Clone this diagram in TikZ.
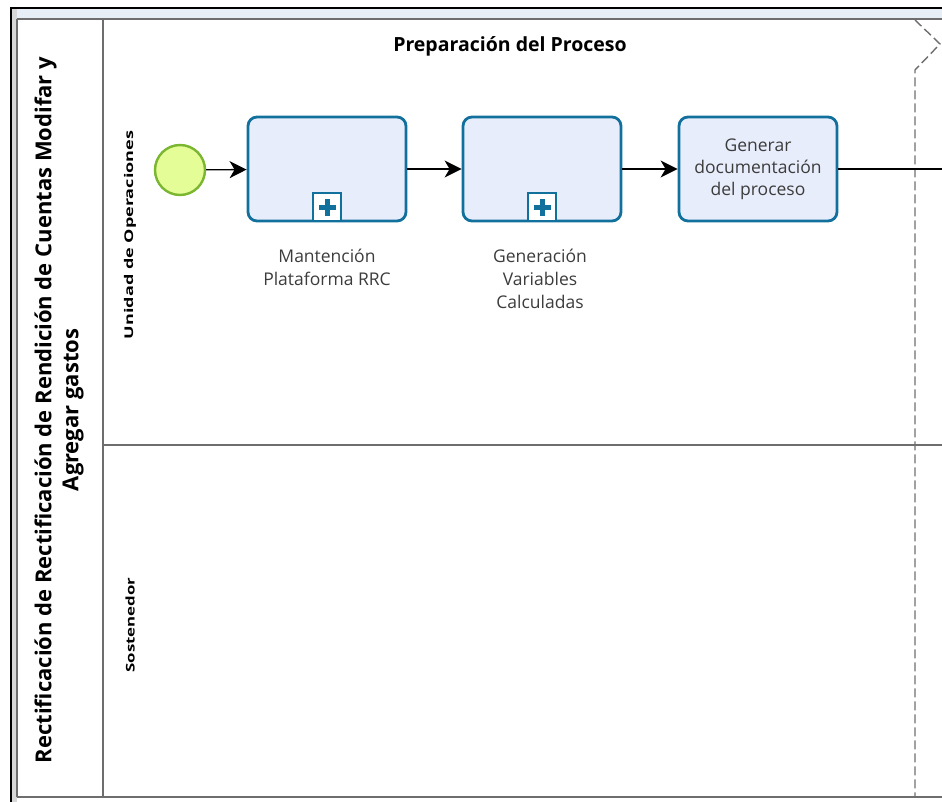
\documentclass[tikz,border=0pt]{standalone}
\usepackage{fontspec}
\setmainfont{Open Sans}
\usetikzlibrary{arrows.meta,calc}

\definecolor{taskline}{RGB}{18,112,156}
\definecolor{taskfill}{RGB}{232,237,252}
\definecolor{startfill}{RGB}{229,253,150}
\definecolor{startline}{RGB}{122,182,48}
\definecolor{poolline}{RGB}{110,110,110}
\definecolor{labeltext}{RGB}{60,60,60}
\definecolor{stripblue}{RGB}{232,238,245}
\definecolor{stripgrey}{RGB}{215,215,215}

\tikzset{
  poolrule/.style={draw=poolline, line width=1.5pt},
  boundary/.style={draw=poolline, line width=1.4pt, dash pattern=on 9pt off 4pt},
  task/.style={draw=taskline, fill=taskfill, line width=2.8pt, rounded corners=9pt,
    minimum width=158pt, minimum height=104pt, inner sep=0pt,
    align=center, text=labeltext, font=\fontsize{17.5}{22}\selectfont},
  startevent/.style={circle, draw=startline, fill=startfill, line width=2.4pt,
    minimum size=50pt, inner sep=0pt},
  flow/.style={draw=black, line width=1.3pt,
    -{Stealth[length=17pt, width=17pt, inset=5pt]}},
  plainflow/.style={draw=black, line width=1.3pt},
  marker/.style={draw=taskline, fill=white, line width=2pt, minimum size=28pt, inner sep=0pt},
  caption/.style={align=center, text=labeltext, font=\fontsize{17.5}{23}\selectfont},
  lanetitle/.style={rotate=90, font=\bfseries\fontsize{12}{14}\selectfont},
}

\newcommand{\plusmark}[1]{%
  \fill[taskline] ($(#1)+(-8.5,-2.5)$) rectangle ($(#1)+(8.5,2.5)$);
  \fill[taskline] ($(#1)+(-2.5,-8.5)$) rectangle ($(#1)+(2.5,8.5)$);
}

\begin{document}
\begin{tikzpicture}[x=1pt, y=-1pt]
\useasboundingbox (0,0) rectangle (942,802);

% window frame strips
\fill[stripblue] (12,9) rectangle (942,18);
\fill[stripgrey] (12,9) rectangle (16.5,802);
\draw[black, line width=1.6pt] (11,8) -- (942,8);
\draw[black, line width=2.6pt] (11,7) -- (11,802);

% pool and lanes
\draw[poolrule] (17,19) -- (942,19);
\draw[poolrule] (17,797) -- (942,797);
\draw[poolrule] (17,19) -- (17,797);
\draw[poolrule] (103,19) -- (103,797);
\draw[poolrule] (103,445) -- (942,445);

% phase boundary
\draw[boundary] (915,20) -- (940,44) -- (915,70) -- (915,797);

% titles
\node[font=\bfseries\fontsize{19.5}{23}\selectfont] (phase) at (510,46) {Preparación del Proceso};
\node[rotate=90, align=center, font=\bfseries\fontsize{22}{27}\selectfont] (pool) at (59,410)
  {Rectificación de Rectificación de Rendición de Cuentas Modifar y\\Agregar gastos};
\node[lanetitle] (lane1) at (130,235) {\scalebox{1.5}[1]{Unidad de Operaciones}};
\node[lanetitle] (lane2) at (130,625) {\scalebox{1.4}[1]{Sostenedor}};

% flow elements
\node[startevent] (start) at (180,170) {};
\node[task] (t1) at (327,169) {};
\node[task] (t2) at (542,169) {};
\node[task] (t3) at (758,169) {Generar\\documentación\\del proceso};
\coordinate (out) at (942,169);

% collapsed sub-process markers
\node[marker, anchor=south] (m1) at (t1.south) {};
\node[marker, anchor=south] (m2) at (t2.south) {};
\plusmark{m1}
\plusmark{m2}

% captions of the collapsed sub-processes
\node[caption] (c1) at (327,267) {Mantención\\Plataforma RRC};
\node[caption] (c2) at (540,279) {Generación\\Variables\\Calculadas};

% sequence flows
\draw[flow] (start) -- (t1);
\draw[flow] (t1) -- (t2);
\draw[flow] (t2) -- (t3);
\draw[plainflow] (t3) -- (out);
\end{tikzpicture}
\end{document}
